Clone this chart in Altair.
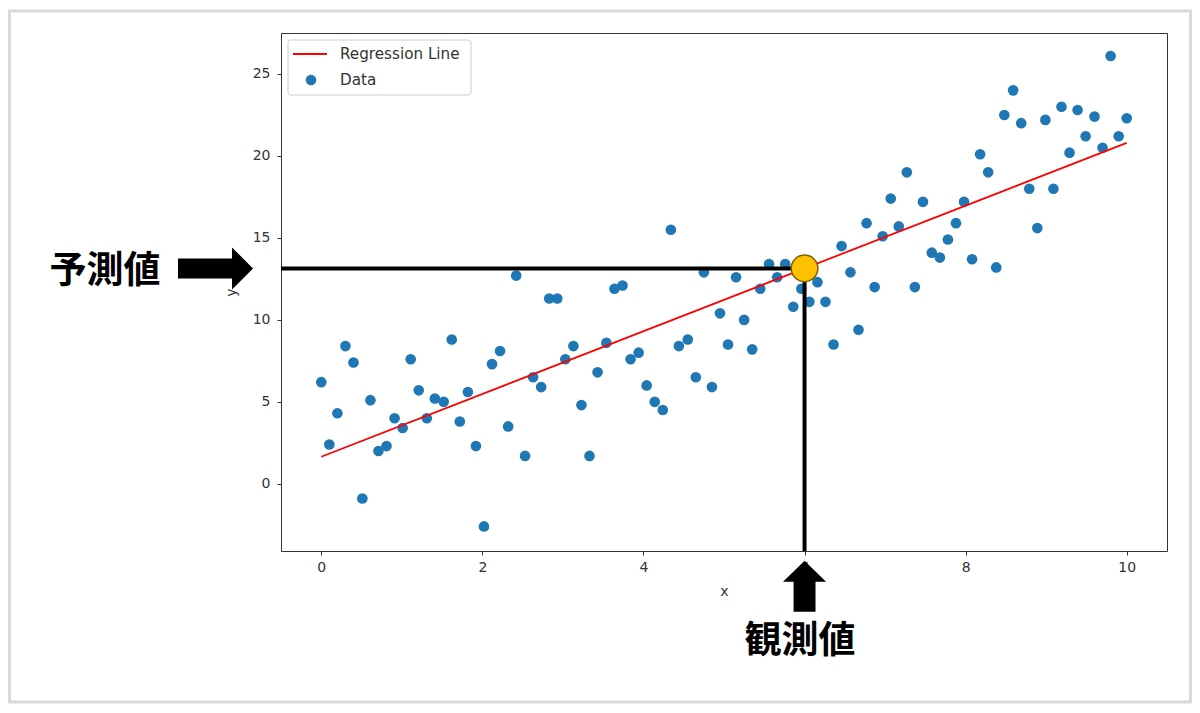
import altair as alt
import pandas as pd

# ---------------- data ----------------
x_vals = [0.0, 0.10, 0.20, 0.30, 0.40, 0.51, 0.61, 0.71, 0.81, 0.91,
          1.01, 1.11, 1.21, 1.31, 1.41, 1.52, 1.62, 1.72, 1.82, 1.92,
          2.02, 2.12, 2.22, 2.32, 2.42, 2.53, 2.63, 2.73, 2.83, 2.93,
          3.03, 3.13, 3.23, 3.33, 3.43, 3.54, 3.64, 3.74, 3.84, 3.94,
          4.04, 4.14, 4.24, 4.34, 4.44, 4.55, 4.65, 4.75, 4.85, 4.95,
          5.05, 5.15, 5.25, 5.35, 5.45, 5.56, 5.66, 5.76, 5.86, 5.96,
          6.06, 6.16, 6.26, 6.36, 6.46, 6.57, 6.67, 6.77, 6.87, 6.97,
          7.07, 7.17, 7.27, 7.37, 7.47, 7.58, 7.68, 7.78, 7.88, 7.98,
          8.08, 8.18, 8.28, 8.38, 8.48, 8.59, 8.69, 8.79, 8.89, 8.99,
          9.09, 9.19, 9.29, 9.39, 9.49, 9.60, 9.70, 9.80, 9.90, 10.0]
y_vals = [6.2, 2.4, 4.3, 8.4, 7.4, -0.9, 5.1, 2.0, 2.3, 4.0,
          3.4, 7.6, 5.7, 4.0, 5.2, 5.0, 8.8, 3.8, 5.6, 2.3,
          -2.6, 7.3, 8.1, 3.5, 12.7, 1.7, 6.5, 5.9, 11.3, 11.3,
          7.6, 8.4, 4.8, 1.7, 6.8, 8.6, 11.9, 12.1, 7.6, 8.0,
          6.0, 5.0, 4.5, 15.5, 8.4, 8.8, 6.5, 12.9, 5.9, 10.4,
          8.5, 12.6, 10.0, 8.2, 11.9, 13.4, 12.6, 13.4, 10.8, 11.9,
          11.1, 12.3, 11.1, 8.5, 14.5, 12.9, 9.4, 15.9, 12.0, 15.1,
          17.4, 15.7, 19.0, 12.0, 17.2, 14.1, 13.8, 14.9, 15.9, 17.2,
          13.7, 20.1, 19.0, 13.2, 22.5, 24.0, 22.0, 18.0, 15.6, 22.2,
          18.0, 23.0, 20.2, 22.8, 21.2, 22.4, 20.5, 26.1, 21.2, 22.3]
fit_x = [0.0, 10.0]
fit_y = [1.65, 20.8]
obs_x = [6.0]
pred_y = [13.14]
x_ticks = [0, 2, 4, 6, 8, 10]
y_ticks = [0, 5, 10, 15, 20, 25]
legend_labels = ["Regression Line", "Data"]
label_pred = "予測値"
label_obs = "観測値"
x_title = "x"
y_title = "y"

# ---------------- layout ----------------
XDOM = [-0.5, 10.5]
YDOM = [-4.1, 27.5]
W, H = 886, 518
BLUE = "#1f77b4"
TXT = "#333333"
FONT = "DejaVu Sans"
JP = "Noto Sans CJK JP"

xs = alt.Scale(domain=XDOM, nice=False, zero=False)
ys = alt.Scale(domain=YDOM, nice=False, zero=False)
x_axis = alt.Axis(values=x_ticks, title=x_title, grid=False, domain=False,
                  tickSize=4, tickColor="#333333", labelFont=FONT, labelFontSize=14,
                  labelColor=TXT, labelPadding=5, titleFont=FONT, titleFontSize=14,
                  titleFontWeight="normal", titleColor=TXT, titlePadding=10, format="d")
y_axis = alt.Axis(values=y_ticks, title=y_title, grid=False, domain=False,
                  tickSize=4, tickColor="#333333", labelFont=FONT, labelFontSize=14,
                  labelColor=TXT, labelPadding=7, titleFont=FONT, titleFontSize=14,
                  titleFontWeight="normal", titleColor=TXT, titlePadding=14, format="d")


def X(field):
    return alt.X(field, type="quantitative", scale=xs, axis=x_axis)


def Y(field):
    return alt.Y(field, type="quantitative", scale=ys, axis=y_axis)


df = pd.DataFrame({"x": x_vals, "y": y_vals})
fit = pd.DataFrame({"x": fit_x, "y": fit_y})
one = pd.DataFrame({"k": [0]})

frame = alt.Chart(one).mark_rect(fill="transparent", stroke="#d9d9d9", strokeWidth=3).encode(
    x=alt.value(-271.5), x2=alt.value(909.5), y=alt.value(-22), y2=alt.value(669))

pts = alt.Chart(df).mark_circle(size=113, color=BLUE, opacity=1).encode(x=X("x"), y=Y("y"))
line = alt.Chart(fit).mark_line(color="red", strokeWidth=1.8).encode(x=X("x"), y=Y("y"))

hline_df = pd.DataFrame({"x0": [XDOM[0]], "x1": obs_x, "y": pred_y})
vline_df = pd.DataFrame({"x": obs_x, "y0": [YDOM[0]], "y1": pred_y})
hline = alt.Chart(hline_df).mark_rule(color="black", strokeWidth=4, strokeCap="butt").encode(
    x=X("x0"), x2="x1", y=Y("y"))
vline = alt.Chart(vline_df).mark_rule(color="black", strokeWidth=4, strokeCap="butt").encode(
    x=X("x"), y=Y("y0"), y2="y1")

star_df = pd.DataFrame({"x": obs_x, "y": pred_y})
star = alt.Chart(star_df).mark_point(shape="circle", filled=True, size=707, fill="#FFC000",
                                     stroke="#7F6000", strokeWidth=1.5, opacity=1).encode(
    x=X("x"), y=Y("y"))

# annotation anchors (data coordinates)
arrow_r_df = pd.DataFrame({"x": [-1.313], "y": pred_y})
arrow_u_df = pd.DataFrame({"x": obs_x, "y": [-6.25]})
lab_pred_df = pd.DataFrame({"x": [-2.685], "y": [12.95], "t": [label_pred]})
lab_obs_df = pd.DataFrame({"x": [5.944], "y": [-9.65], "t": [label_obs]})

RIGHT_ARROW = "M-1,-0.267 L0.44,-0.267 L0.44,-0.56 L1,0 L0.44,0.56 L0.44,0.267 L-1,0.267 Z"
UP_ARROW = "M0,-1 L0.843,-0.18 L0.43,-0.18 L0.43,1 L-0.43,1 L-0.43,-0.18 L-0.843,-0.18 Z"

arrow_r = alt.Chart(arrow_r_df).mark_point(shape=RIGHT_ARROW, filled=True, size=5625,
                                           color="black", opacity=1, strokeWidth=0).encode(
    x=X("x"), y=Y("y"))
arrow_u = alt.Chart(arrow_u_df).mark_point(shape=UP_ARROW, filled=True, size=2601,
                                           color="black", opacity=1, strokeWidth=0).encode(
    x=X("x"), y=Y("y"))

txt_pred = alt.Chart(lab_pred_df).mark_text(font=JP, fontWeight="bold", fontSize=37,
                                            align="center", baseline="middle", color="black").encode(
    x=X("x"), y=Y("y"), text="t:N")
txt_obs = alt.Chart(lab_obs_df).mark_text(font=JP, fontWeight="bold", fontSize=37,
                                          align="center", baseline="middle", color="black").encode(
    x=X("x"), y=Y("y"), text="t:N")

# legend (drawn manually, pixel offsets inside the plot area)
leg_box = alt.Chart(one).mark_rect(fill="white", fillOpacity=0.85, stroke="#cccccc",
                                   strokeWidth=1, cornerRadius=3).encode(
    x=alt.value(7), x2=alt.value(190), y=alt.value(7), y2=alt.value(62))
leg_line = alt.Chart(one).mark_rule(color="red", strokeWidth=1.8).encode(
    x=alt.value(12), x2=alt.value(46), y=alt.value(21))
leg_dot = alt.Chart(one).mark_circle(size=113, color=BLUE, opacity=1).encode(
    x=alt.value(30), y=alt.value(47))
leg_t1 = alt.Chart(one).mark_text(font=FONT, fontSize=15.2, align="left", baseline="middle",
                                  color=TXT).encode(
    x=alt.value(59), y=alt.value(21), text=alt.value(legend_labels[0]))
leg_t2 = alt.Chart(one).mark_text(font=FONT, fontSize=15.2, align="left", baseline="middle",
                                  color=TXT).encode(
    x=alt.value(59), y=alt.value(47), text=alt.value(legend_labels[1]))

chart = alt.layer(
    frame, pts, line, hline, vline, star, arrow_r, arrow_u, txt_pred, txt_obs,
    leg_box, leg_line, leg_dot, leg_t1, leg_t2
).properties(
    width=W, height=H,
    autosize=alt.AutoSizeParams(type="none"),
    padding={"left": 281, "top": 33, "right": 33, "bottom": 162},
    background="white",
).configure_view(stroke="#333333", strokeWidth=1)

chart.save("out.html", embed_options={"renderer": "svg", "actions": False})
